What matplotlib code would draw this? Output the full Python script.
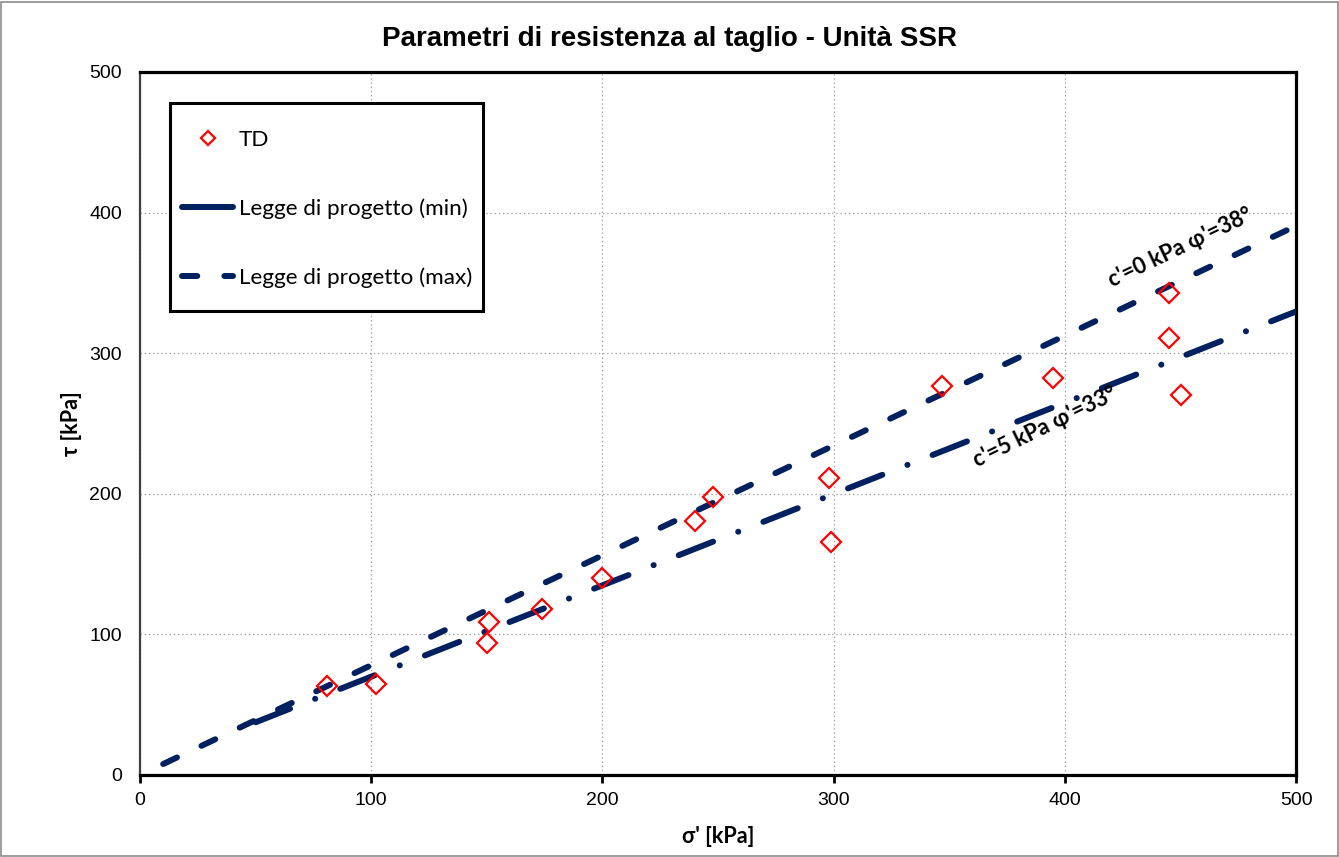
import matplotlib
matplotlib.use("Agg")
import matplotlib.pyplot as plt
from matplotlib.lines import Line2D
from matplotlib.patches import Rectangle

# TD test results (sigma', tau) in kPa
sigma_td = [81, 102, 150, 151, 174, 200, 240, 248, 298, 299, 347, 395, 445, 445, 450]
tau_td = [63, 65, 94, 109, 118, 140, 181, 198, 211, 166, 277, 282, 343, 311, 270]

# design laws (end points)
sigma_max = [10, 500]
tau_max = [7.8, 390.6]     # c'=0 kPa, phi'=38
sigma_min = [50, 500]
tau_min = [37.5, 329.7]    # c'=5 kPa, phi'=33

ticks = [0, 100, 200, 300, 400, 500]
NAVY = '#002060'
CAL = ['Lato', 'DejaVu Sans']   # stand-in for Calibri

plt.rcParams['lines.scale_dashes'] = False
plt.rcParams['font.family'] = ['Liberation Sans', 'DejaVu Sans']

fig = plt.figure(figsize=(13.39, 8.57), dpi=100)
ax = fig.add_axes([0.1046, 0.0957, 0.8634, 0.8203])

ax.plot(sigma_max, tau_max, color=NAVY, lw=4.3, dashes=(11, 19.5),
        dash_capstyle='round', zorder=3)
ax.plot(sigma_min, tau_min, color=NAVY, lw=4.3, dashes=(26.6, 19.4, 0.1, 19.4),
        dash_capstyle='round', zorder=3)
ax.plot(sigma_td, tau_td, linestyle='none', marker='D', ms=10, mfc='none',
        mec='#FF0000', mew=1.6, zorder=4)

ax.set_xlim(0, 500)
ax.set_ylim(0, 500)
ax.set_xticks(ticks)
ax.set_yticks(ticks)
ax.tick_params(axis='both', labelsize=14, direction='out', color='black')
ax.tick_params(axis='x', length=6, width=2, pad=6)
ax.tick_params(axis='y', length=0, pad=13)
ax.grid(True, color='#A0A0A0', linestyle=(0, (1, 2)), linewidth=0.9)
ax.set_axisbelow(True)

for side in ['top', 'right', 'bottom']:
    ax.spines[side].set_linewidth(2.3)
ax.spines['left'].set_linewidth(1.6)
ax.spines['left'].set_color('#404040')

ax.set_xlabel("σ' [kPa]", fontsize=15.5, fontweight='bold', family=CAL)
ax.xaxis.set_label_coords(0.5, -0.073)
ax.set_ylabel("τ [kPa]", fontsize=15.5, fontweight='bold', family=CAL, va='center')
ax.yaxis.set_label_coords(-0.0595, 0.5)
fig.text(0.5, 0.9545, "Parametri di resistenza al taglio - Unità SSR", fontsize=20,
         fontweight='bold', ha='center', va='center')

ax.text(449.8, 374.8, "c'=0 kPa φ'=38°", rotation=25.5, ha='center', va='center',
        fontsize=15.8, fontweight='bold', family=CAL, rotation_mode='anchor')
ax.text(391.4, 247.5, "c'=5 kPa φ'=33°", rotation=26, ha='center', va='center',
        fontsize=15.8, fontweight='bold', family=CAL, rotation_mode='anchor')

handles = [
    Line2D([], [], linestyle='none', marker='D', ms=7, mfc='none', mec='#FF0000', mew=1.6),
    Line2D([], [], color=NAVY, lw=4.3, solid_capstyle='round'),
    Line2D([], [], color=NAVY, lw=4.3, dashes=(11, 19.5), dash_capstyle='round'),
]
labels = ['TD', 'Legge di progetto (min)', 'Legge di progetto (max)']
leg = ax.legend(handles, labels, loc='upper left', bbox_to_anchor=(0.036, 0.918),
                prop={'family': CAL, 'size': 16.2}, frameon=False,
                handlelength=2.3, handletextpad=0.25, labelspacing=2.15,
                borderpad=0, borderaxespad=0)
# legend box drawn separately (Excel-style tall padding)
ax.add_patch(Rectangle((0.026, 0.66), 0.271, 0.296, transform=ax.transAxes,
                       fill=True, facecolor='white', edgecolor='black',
                       linewidth=2.2, zorder=5))
leg.set_zorder(6)

fig.patches.append(Rectangle((0.001, 0.001), 0.998, 0.997, transform=fig.transFigure,
                             fill=False, edgecolor='#8C8C8C', linewidth=1.2))

fig.savefig('out.png', dpi=100)
